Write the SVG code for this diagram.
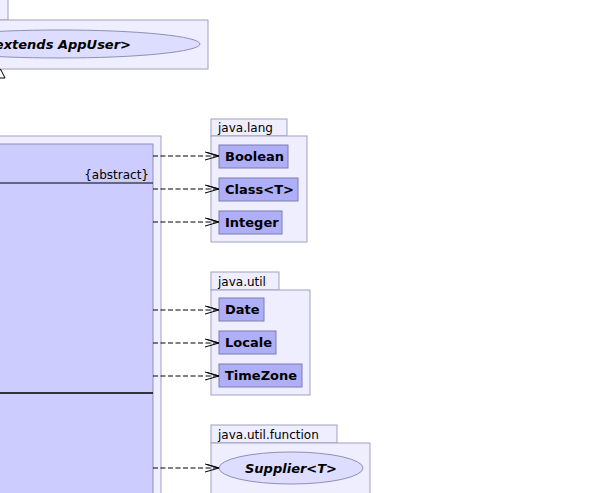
<svg xmlns="http://www.w3.org/2000/svg" width="593" height="493" viewBox="0 0 593 493">
<defs>
<style>
.pkg{fill:#EEEEFF;stroke:#A0A0C0;stroke-width:1}
.cls{fill:#CCCCFF;stroke:#9090B8;stroke-width:1}
.box{fill:#AFAFF8;stroke:#7C7CB0;stroke-width:1}
.ell{fill:#DDDDFF;stroke:#9090B0;stroke-width:1}
.pl{font-family:"DejaVu Sans",sans-serif;font-size:12px;fill:#000}
.bn{font-family:"DejaVu Sans",sans-serif;font-size:13px;font-weight:bold;fill:#000}
.bi{font-family:"DejaVu Sans",sans-serif;font-size:13px;font-weight:bold;font-style:italic;fill:#000}
.dep{stroke:#000;stroke-width:1;stroke-dasharray:5,2.5;fill:none}
.ah{stroke:#000;stroke-width:1;fill:none}
</style>
</defs>
<rect width="593" height="493" fill="#FFFFFF"/>
<g id="pkg-top">
<rect class="pkg" x="-20" y="-5" width="28" height="25"/>
<rect class="pkg" x="-20" y="20" width="228" height="49"/>
<g id="node-appuser">
<ellipse class="ell" cx="60" cy="44" rx="140" ry="14"/>
<text class="bi" x="131" y="49" text-anchor="end">extends AppUser&gt;</text>
</g>
</g>
<g id="pkg-main">
<rect class="pkg" x="-20" y="136" width="181" height="370"/>
<g id="node-main-class">
<rect class="cls" x="-20" y="144" width="173" height="360"/>
<text class="pl" x="149" y="179" text-anchor="end">{abstract}</text>
<line x1="-20" y1="183" x2="153" y2="183" stroke="#000" stroke-width="1"/>
<line x1="-20" y1="393" x2="153" y2="393" stroke="#000" stroke-width="1.6"/>
</g>
</g>
<g id="pkg-java-lang">
<rect class="pkg" x="211" y="119" width="76" height="17"/>
<text class="pl" x="218" y="132">java.lang</text>
<rect class="pkg" x="211" y="136" width="96" height="106"/>
<g id="node-boolean"><rect class="box" x="219" y="145" width="69" height="23"/><text class="bn" x="225" y="161">Boolean</text></g>
<g id="node-class"><rect class="box" x="219" y="178" width="79" height="23"/><text class="bn" x="225" y="194">Class&lt;T&gt;</text></g>
<g id="node-integer"><rect class="box" x="219" y="211" width="63" height="23"/><text class="bn" x="225" y="227">Integer</text></g>
</g>
<g id="pkg-java-util">
<rect class="pkg" x="211" y="272" width="68" height="18"/>
<text class="pl" x="218" y="286">java.util</text>
<rect class="pkg" x="211" y="290" width="99" height="105"/>
<g id="node-date"><rect class="box" x="219" y="298" width="45" height="23"/><text class="bn" x="225" y="314">Date</text></g>
<g id="node-locale"><rect class="box" x="219" y="331" width="57" height="23"/><text class="bn" x="225" y="347">Locale</text></g>
<g id="node-timezone"><rect class="box" x="219" y="364" width="83" height="23"/><text class="bn" x="225" y="380">TimeZone</text></g>
</g>
<g id="pkg-java-util-function">
<rect class="pkg" x="211" y="425" width="126" height="18"/>
<text class="pl" x="218" y="439">java.util.function</text>
<rect class="pkg" x="211" y="443" width="159" height="60"/>
<g id="node-supplier">
<ellipse class="ell" cx="291" cy="468" rx="72" ry="16"/>
<text class="bi" x="291" y="473" text-anchor="middle">Supplier&lt;T&gt;</text>
</g>
</g>
<g id="connectors">
<polygon points="-4,78 0.5,69 5,78" fill="#FFFFFF" stroke="#000" stroke-width="1"/>
<g id="c-boolean"><line class="dep" x1="153" y1="156" x2="218" y2="156"/><path class="ah" d="M205,152 L219,156 L205,160 M207,152.5 L219,156"/></g>
<g id="c-class"><line class="dep" x1="153" y1="189" x2="218" y2="189"/><path class="ah" d="M205,185 L219,189 L205,193 M207,185.5 L219,189"/></g>
<g id="c-integer"><line class="dep" x1="153" y1="222" x2="218" y2="222"/><path class="ah" d="M205,218 L219,222 L205,226 M207,218.5 L219,222"/></g>
<g id="c-date"><line class="dep" x1="153" y1="310" x2="218" y2="310"/><path class="ah" d="M205,306 L219,310 L205,314 M207,306.5 L219,310"/></g>
<g id="c-locale"><line class="dep" x1="153" y1="343" x2="218" y2="343"/><path class="ah" d="M205,339 L219,343 L205,347 M207,339.5 L219,343"/></g>
<g id="c-timezone"><line class="dep" x1="153" y1="376" x2="218" y2="376"/><path class="ah" d="M205,372 L219,376 L205,380 M207,372.5 L219,376"/></g>
<g id="c-supplier"><line class="dep" x1="153" y1="468" x2="218" y2="468"/><path class="ah" d="M205,464 L219,468 L205,472 M207,464.5 L219,468"/></g>
</g>
</svg>
